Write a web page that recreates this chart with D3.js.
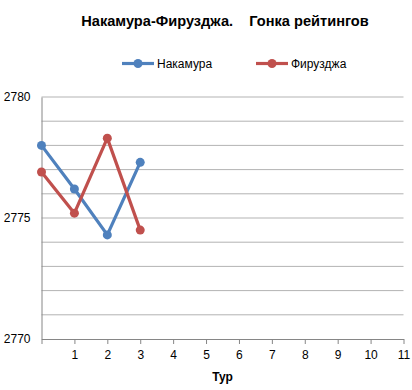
<!doctype html>
<html lang="ru">
<head>
<meta charset="utf-8">
<title>Накамура-Фирузджа</title>
<script src="https://d3js.org/d3.v7.min.js"></script>
<style>
  body { margin: 0; background: #fff; }
  svg { display: block; font-family: "Liberation Sans", Arial, sans-serif; }
</style>
</head>
<body>
<svg width="412" height="390"></svg>
<script>
// chart data
var rounds = [0, 1, 2, 3];
var nakamura = [2778.0, 2776.2, 2774.3, 2777.3];
var firouzja = [2776.9, 2775.2, 2778.3, 2774.5];
var seriesNames = ["Накамура", "Фирузджа"];
var xTicks = [0, 1, 2, 3, 4, 5, 6, 7, 8, 9, 10, 11];
var yLabels = [2770, 2775, 2780];
var yGrid = [2771, 2772, 2773, 2774, 2775, 2776, 2777, 2778, 2779, 2780];

var colors = ["#4F81BD", "#C0504D"];
var svg = d3.select("svg");

var x = d3.scaleLinear().domain([0, 11]).range([41.5, 403.5]);
var y = d3.scaleLinear().domain([2770, 2780]).range([339, 97]);

// title
svg.append("text")
  .attr("x", 225).attr("y", 26)
  .attr("text-anchor", "middle")
  .style("font-weight", "bold").style("font-size", "14.6px")
  .style("white-space", "pre")
  .text("Накамура-Фирузджа.    Гонка рейтингов");

// gridlines
svg.append("g").selectAll("line").data(yGrid).enter().append("line")
  .attr("x1", x(0)).attr("x2", x(11))
  .attr("y1", function(d) { return y(d); })
  .attr("y2", function(d) { return y(d); })
  .attr("stroke", "#b3b3b3").attr("stroke-width", 1);

// y axis
var yAxis = svg.append("g").attr("transform", "translate(" + x(0) + ",0)")
  .call(d3.axisLeft(y).tickValues(yLabels).tickSize(0).tickPadding(11).tickFormat(d3.format("d")));
yAxis.select(".domain").attr("stroke", "#868686");
yAxis.selectAll("text").style("font-size", "12px").attr("fill", "#000");

// x axis
var xAxis = svg.append("g").attr("transform", "translate(0," + y(2770) + ")")
  .call(d3.axisBottom(x).tickValues(xTicks).tickSizeInner(5).tickSizeOuter(0).tickPadding(6)
    .tickFormat(function(d) { return d === 0 ? "" : d; }));
xAxis.select(".domain").attr("stroke", "#868686");
xAxis.selectAll(".tick line").attr("stroke", "#868686");
xAxis.selectAll("text").style("font-size", "12px").attr("fill", "#000");

svg.append("text")
  .attr("x", (x(0) + x(11)) / 2).attr("y", 381)
  .attr("text-anchor", "middle")
  .style("font-weight", "bold").style("font-size", "12px")
  .text("Тур");

// series
var allSeries = [nakamura, firouzja];
var line = d3.line()
  .x(function(d, i) { return x(rounds[i]); })
  .y(function(d) { return y(d); });

allSeries.forEach(function(vals, k) {
  svg.append("path").datum(vals)
    .attr("d", line)
    .attr("fill", "none")
    .attr("stroke", colors[k])
    .attr("stroke-width", 3.2)
    .attr("stroke-linejoin", "round");
  svg.append("g").selectAll("circle").data(vals).enter().append("circle")
    .attr("cx", function(d, i) { return x(rounds[i]); })
    .attr("cy", function(d) { return y(d); })
    .attr("r", 4.5)
    .attr("fill", colors[k]);
});

// legend
var legendX = [122, 256];
seriesNames.forEach(function(name, k) {
  var g = svg.append("g").attr("transform", "translate(" + legendX[k] + ",63.5)");
  g.append("line").attr("x1", 0).attr("x2", 32)
    .attr("stroke", colors[k]).attr("stroke-width", 3.2);
  g.append("circle").attr("cx", 16).attr("r", 4.5).attr("fill", colors[k]);
  g.append("text").attr("x", 35).attr("y", 4.5)
    .style("font-size", "12px").text(name);
});
</script>
</body>
</html>
